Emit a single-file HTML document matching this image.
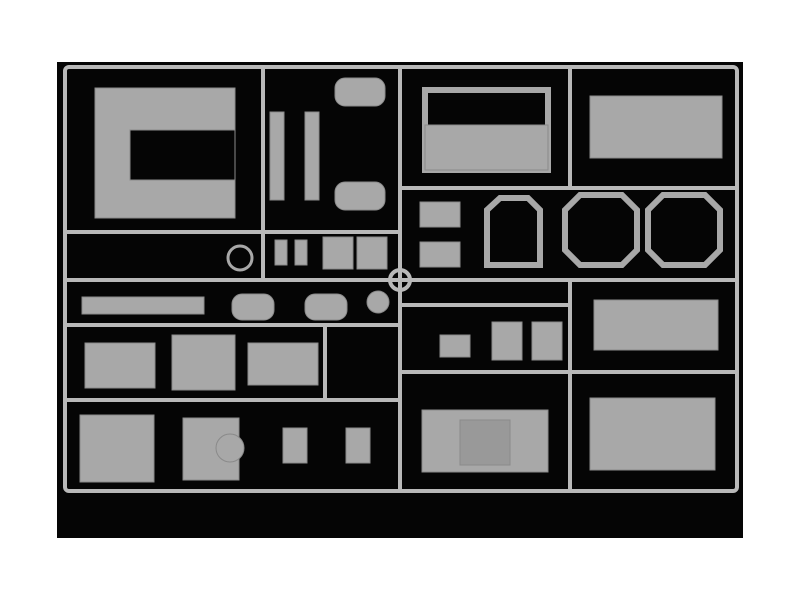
<!DOCTYPE html>
<html><head><style>
html,body{margin:0;padding:0;background:#fff;width:800px;height:600px;overflow:hidden}
</style></head><body>
<svg width="800" height="600" xmlns="http://www.w3.org/2000/svg">
<rect x="0" y="0" width="800" height="600" fill="#fff"/>
<rect x="57" y="62" width="686" height="476" fill="#050505"/>
<g stroke="#b9b9b9" stroke-width="4" fill="none">
<rect x="65" y="67" width="672" height="424" rx="4"/>
<line x1="263" y1="67" x2="263" y2="232"/>
<line x1="400" y1="67" x2="400" y2="491"/>
<line x1="570" y1="67" x2="570" y2="188"/>
<line x1="65" y1="232" x2="400" y2="232"/>
<line x1="400" y1="188" x2="737" y2="188"/>
<line x1="65" y1="280" x2="737" y2="280"/>
<line x1="65" y1="325" x2="400" y2="325"/>
<line x1="65" y1="400" x2="400" y2="400"/>
<line x1="400" y1="372" x2="737" y2="372"/>
<line x1="325" y1="325" x2="325" y2="400"/>
<line x1="570" y1="280" x2="570" y2="491"/>
<line x1="400" y1="305" x2="570" y2="305"/>
<line x1="263" y1="232" x2="263" y2="280"/>
<circle cx="400" cy="280" r="10"/>
</g>
<g fill="#a8a8a8" stroke="#8a8a8a" stroke-width="1">
<path fill-rule="evenodd" d="M95 88 H235 V218 H95 Z M130 130 H235 V180 H130 Z"/>
<rect x="270" y="112" width="14" height="88"/>
<rect x="305" y="112" width="14" height="88"/>
<rect x="335" y="78" width="50" height="28" rx="10"/>
<rect x="335" y="182" width="50" height="28" rx="10"/>
<path d="M425 90 H548 V170 H425 Z" fill="none" stroke="#a8a8a8" stroke-width="6"/>
<rect x="425" y="125" width="123" height="45"/>
<rect x="590" y="96" width="132" height="62"/>
<rect x="420" y="202" width="40" height="25"/>
<rect x="420" y="242" width="40" height="25"/>
<path d="M487 210 L500 198 H528 L540 210 V265 H487 Z" fill="none" stroke="#a8a8a8" stroke-width="6"/>
<path d="M565 210 L580 195 H622 L637 210 V250 L622 265 H580 L565 250 Z" fill="none" stroke="#a8a8a8" stroke-width="6"/>
<path d="M648 210 L663 195 H705 L720 210 V250 L705 265 H663 L648 250 Z" fill="none" stroke="#a8a8a8" stroke-width="6"/>
<rect x="323" y="237" width="30" height="32"/>
<rect x="357" y="237" width="30" height="32"/>
<rect x="275" y="240" width="12" height="25"/>
<rect x="295" y="240" width="12" height="25"/>
<circle cx="240" cy="258" r="12" fill="none" stroke="#a8a8a8" stroke-width="3"/>
<rect x="82" y="297" width="122" height="17"/>
<rect x="232" y="294" width="42" height="26" rx="10"/>
<rect x="305" y="294" width="42" height="26" rx="10"/>
<circle cx="378" cy="302" r="11"/>
<rect x="594" y="300" width="124" height="50"/>
<rect x="85" y="343" width="70" height="45"/>
<rect x="172" y="335" width="63" height="55"/>
<rect x="248" y="343" width="70" height="42"/>
<rect x="440" y="335" width="30" height="22"/>
<rect x="492" y="322" width="30" height="38"/>
<rect x="532" y="322" width="30" height="38"/>
<rect x="80" y="415" width="74" height="67"/>
<rect x="183" y="418" width="56" height="62"/>
<circle cx="230" cy="448" r="14"/>
<rect x="283" y="428" width="24" height="35"/>
<rect x="346" y="428" width="24" height="35"/>
<rect x="422" y="410" width="126" height="62"/>
<rect x="460" y="420" width="50" height="45" fill="#999"/>
<rect x="590" y="398" width="125" height="72"/>
</g>
</svg>
</body></html>
